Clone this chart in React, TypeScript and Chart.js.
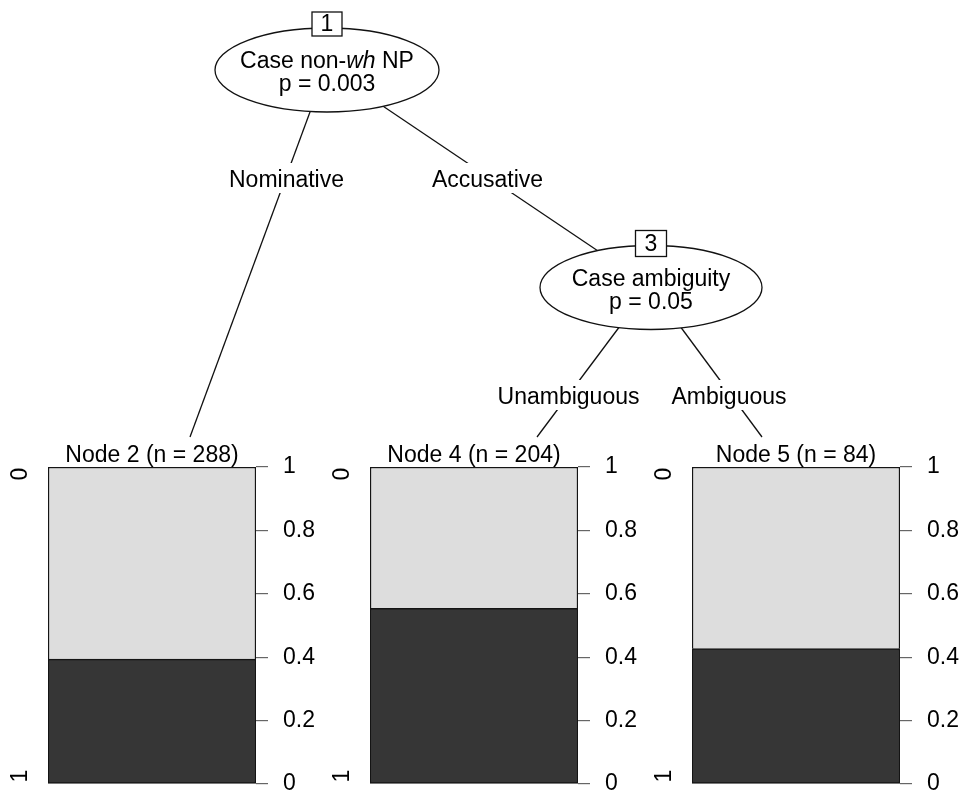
import React, { useEffect, useRef } from 'react';
import { Chart, registerables } from 'chart.js';

Chart.register(...registerables);

const FONT = '"Liberation Sans", Arial, Helvetica, sans-serif';

// ---------- data ----------
const NODE_IDS = [2, 4, 5];
const NODE_N = [288, 204, 84];
const PROP_LEVEL1 = [0.394, 0.554, 0.427]; // dark segment (response "1")
const PROP_LEVEL0 = [0.606, 0.446, 0.573]; // light segment (response "0")
const LEVELS = ['0', '1'];
const Y_TICKS = [0, 0.2, 0.4, 0.6, 0.8, 1];
const Y_TICK_LABELS = ['0', '0.2', '0.4', '0.6', '0.8', '1'];

const SPLIT_IDS = [1, 3];
const SPLIT_VARS = [
  [{ t: 'Case non-', it: false }, { t: 'wh', it: true }, { t: ' NP', it: false }],
  [{ t: 'Case ambiguity', it: false }],
];
const SPLIT_P = ['p = 0.003', 'p = 0.05'];
const EDGE_LABELS = ['Nominative', 'Accusative', 'Unambiguous', 'Ambiguous'];

// ---------- layout (page pixels) ----------
const W = 964;
const H = 795;
const NODE_GEOM = [
  { cx: 327, cy: 70, rx: 112, ry: 42, bw: 30, bh: 24, by: 24 },
  { cx: 651, cy: 287.5, rx: 111, ry: 42, bw: 31, bh: 26, by: 243.5 },
];
const EDGE_GEOM = [
  { x1: 319.6, y1: 86, x2: 190, y2: 437 },
  { x1: 362, y1: 92, x2: 602.5, y2: 254 },
  { x1: 626, y1: 318, x2: 537, y2: 437 },
  { x1: 674, y1: 318, x2: 762, y2: 437 },
];
const EDGE_LABEL_POS = [
  { x: 286.5, y: 187 },
  { x: 487.5, y: 187 },
  { x: 568.5, y: 404 },
  { x: 729, y: 404 },
];
const PANEL_W = 322;
const PANEL_TOP = 430;
const PANEL_H = H - PANEL_TOP;

const treePlugin = {
  id: 'treeNodes',
  afterDatasetsDraw(chart: any) {
    const ctx: CanvasRenderingContext2D = chart.ctx;
    const xs = chart.scales.x;
    const ys = chart.scales.y;
    const X = (v: number) => xs.getPixelForValue(v);
    const Y = (v: number) => ys.getPixelForValue(v);
    ctx.save();
    ctx.lineWidth = 1.3;
    ctx.strokeStyle = '#111';
    ctx.textAlign = 'center';
    ctx.textBaseline = 'alphabetic';
    ctx.font = `23px ${FONT}`;
    EDGE_LABELS.forEach((lab, i) => {
      const p = EDGE_LABEL_POS[i];
      const w = ctx.measureText(lab).width;
      ctx.fillStyle = '#fff';
      ctx.fillRect(X(p.x) - w / 2 - 3, Y(p.y) - 24, w + 6, 30);
      ctx.fillStyle = '#000';
      ctx.fillText(lab, X(p.x), Y(p.y));
    });
    SPLIT_IDS.forEach((id, i) => {
      const g = NODE_GEOM[i];
      ctx.beginPath();
      ctx.ellipse(X(g.cx), Y(g.cy), g.rx, g.ry, 0, 0, Math.PI * 2);
      ctx.fillStyle = '#fff';
      ctx.fill();
      ctx.stroke();
      const parts = SPLIT_VARS[i];
      const fonts = parts.map((p) => `${p.it ? 'italic ' : ''}23px ${FONT}`);
      const widths = parts.map((p, k) => {
        ctx.font = fonts[k];
        return ctx.measureText(p.t).width;
      });
      const total = widths.reduce((a, b) => a + b, 0);
      let x = X(g.cx) - total / 2;
      ctx.textAlign = 'left';
      ctx.fillStyle = '#000';
      parts.forEach((p, k) => {
        ctx.font = fonts[k];
        ctx.fillText(p.t, x, Y(g.cy) - 2);
        x += widths[k];
      });
      ctx.textAlign = 'center';
      ctx.font = `23px ${FONT}`;
      ctx.fillText(SPLIT_P[i], X(g.cx), Y(g.cy) + 21);
      ctx.fillStyle = '#fff';
      ctx.fillRect(X(g.cx) - g.bw / 2, Y(g.by) - g.bh / 2, g.bw, g.bh);
      ctx.strokeRect(X(g.cx) - g.bw / 2, Y(g.by) - g.bh / 2, g.bw, g.bh);
      ctx.fillStyle = '#000';
      ctx.textBaseline = 'middle';
      ctx.fillText(String(id), X(g.cx), Y(g.by) + 1);
      ctx.textBaseline = 'alphabetic';
    });
    ctx.restore();
  },
};

const panelDecorPlugin = {
  id: 'panelDecor',
  afterDraw(chart: any) {
    const ctx: CanvasRenderingContext2D = chart.ctx;
    const ys = chart.scales.y;
    const area = chart.chartArea;
    // panel title
    ctx.save();
    ctx.font = `23px ${FONT}`;
    ctx.fillStyle = '#000';
    ctx.textAlign = 'center';
    ctx.textBaseline = 'alphabetic';
    ctx.fillText(String(chart.data.labels[0]), (area.left + area.right) / 2, area.top - 5);
    ctx.restore();
    // level labels on the left (rotated)
    const put = (txt: string, yPix: number) => {
      ctx.save();
      ctx.translate(area.left - 21, yPix);
      ctx.rotate(-Math.PI / 2);
      ctx.font = `23px ${FONT}`;
      ctx.fillStyle = '#000';
      ctx.textAlign = 'center';
      ctx.textBaseline = 'alphabetic';
      ctx.fillText(txt, 0, 0);
      ctx.restore();
    };
    put(LEVELS[0], ys.getPixelForValue(1) + 7);
    put(LEVELS[1], ys.getPixelForValue(0) - 8);
  },
};

export default function App() {
  const treeRef = useRef<HTMLCanvasElement | null>(null);
  const panelRefs = useRef<(HTMLCanvasElement | null)[]>([]);

  useEffect(() => {
    Chart.defaults.font.family = FONT;
    const charts: Chart[] = [];

    NODE_IDS.forEach((id, i) => {
      const cv = panelRefs.current[i];
      if (!cv) return;
      const title = `Node ${id} (n = ${NODE_N[i]})`;
      charts.push(
        new Chart(cv, {
          type: 'bar',
          data: {
            labels: [title],
            datasets: [
              {
                label: LEVELS[1],
                data: [PROP_LEVEL1[i]],
                backgroundColor: '#363636',
                borderColor: '#141414',
                borderWidth: 1.5,
                borderSkipped: false,
                barPercentage: 1,
                categoryPercentage: 1,
              },
              {
                label: LEVELS[0],
                data: [PROP_LEVEL0[i]],
                backgroundColor: '#dddddd',
                borderColor: '#141414',
                borderWidth: 1.5,
                borderSkipped: 'bottom',
                barPercentage: 1,
                categoryPercentage: 1,
              },
            ],
          },
          options: {
            responsive: false,
            animation: false,
            layout: { padding: { left: 48, right: 0, top: 37, bottom: 11 } },
            plugins: {
              legend: { display: false },
              tooltip: { enabled: false },
              title: { display: false },
            },
            scales: {
              x: { stacked: true, display: false },
              y: {
                stacked: true,
                position: 'right',
                min: 0,
                max: 1,
                afterBuildTicks: (s: any) => {
                  s.ticks = Y_TICKS.map((v) => ({ value: v }));
                },
                afterFit: (s: any) => {
                  s.width = 66;
                  s.paddingTop = 0;
                  s.paddingBottom = 0;
                },
                ticks: {
                  callback: (v: any) => Y_TICK_LABELS[Y_TICKS.indexOf(Number(v))] ?? '',
                  color: '#000',
                  padding: 15,
                  font: { size: 23, family: FONT, lineHeight: 0.9 },
                },
                grid: {
                  drawOnChartArea: false,
                  drawTicks: true,
                  tickLength: 12,
                  color: '#666',
                  lineWidth: 1.2,
                },
                border: { display: false },
              },
            },
          },
          plugins: [panelDecorPlugin],
        } as any)
      );
    });

    if (treeRef.current) {
      charts.push(
        new Chart(treeRef.current, {
          type: 'scatter',
          data: {
            datasets: EDGE_GEOM.map((e, i) => ({
              label: EDGE_LABELS[i],
              data: [
                { x: e.x1, y: e.y1 },
                { x: e.x2, y: e.y2 },
              ],
              showLine: true,
              borderColor: '#111',
              borderWidth: 1.3,
              pointRadius: 0,
              fill: false,
            })),
          },
          options: {
            responsive: false,
            animation: false,
            layout: { padding: 0 },
            plugins: { legend: { display: false }, tooltip: { enabled: false } },
            scales: {
              x: { type: 'linear', min: 0, max: W, display: false },
              y: { type: 'linear', min: 0, max: H, reverse: true, display: false },
            },
          },
          plugins: [treePlugin],
        } as any)
      );
    }

    return () => charts.forEach((c) => c.destroy());
  }, []);

  return (
    <div
      style={{
        position: 'absolute',
        left: 0,
        top: 0,
        width: W,
        height: H,
        background: '#fff',
        overflow: 'hidden',
      }}
    >
      {NODE_IDS.map((id, i) => (
        <canvas
          key={id}
          ref={(el) => {
            panelRefs.current[i] = el;
          }}
          width={PANEL_W}
          height={PANEL_H}
          style={{ position: 'absolute', left: PANEL_W * i, top: PANEL_TOP, width: PANEL_W, height: PANEL_H }}
        />
      ))}
      <canvas
        ref={treeRef}
        width={W}
        height={H}
        style={{ position: 'absolute', left: 0, top: 0, width: W, height: H, pointerEvents: 'none' }}
      />
    </div>
  );
}
